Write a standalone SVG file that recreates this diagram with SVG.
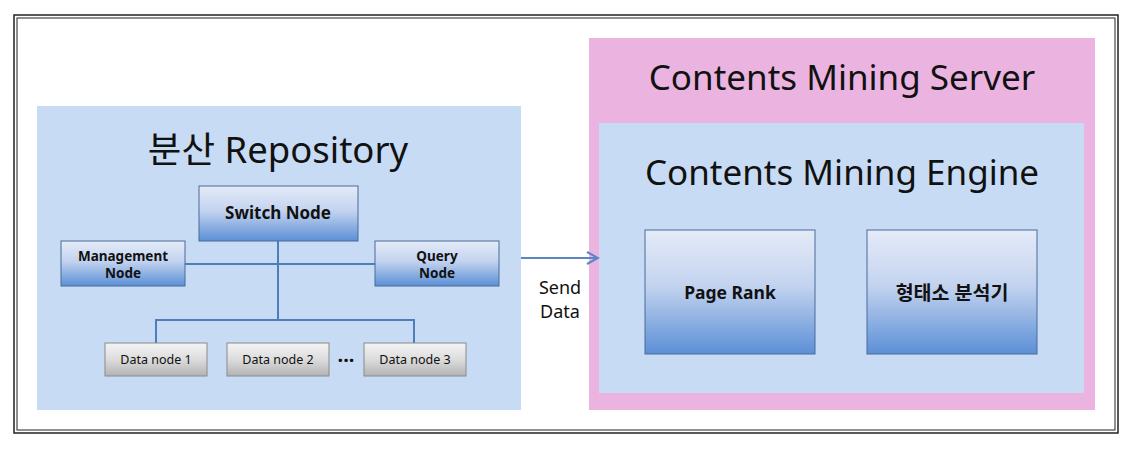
<svg xmlns="http://www.w3.org/2000/svg" width="1133" height="450" viewBox="0 0 1133 450">
<defs>
<linearGradient id="gb" x1="0" y1="0" x2="0" y2="1">
<stop offset="0" stop-color="#e4ebf8"/>
<stop offset="0.45" stop-color="#c3d3ef"/>
<stop offset="1" stop-color="#5b8fd6"/>
</linearGradient>
<linearGradient id="gg" x1="0" y1="0" x2="0" y2="1">
<stop offset="0" stop-color="#f4f4f4"/>
<stop offset="0.5" stop-color="#dcdcdc"/>
<stop offset="1" stop-color="#b3b3b3"/>
</linearGradient>
<marker id="arr" markerWidth="14" markerHeight="14" refX="12" refY="7" orient="auto" markerUnits="userSpaceOnUse">
<path d="M1,1 L12,7 L1,13" fill="none" stroke="#5a86c4" stroke-width="2"/>
</marker>
<style>
.t{font-family:"Noto Sans","Noto Sans CJK KR",sans-serif;fill:#111}
.b{font-weight:bold;text-anchor:middle}
.nb{fill:url(#gb);stroke:#4a6a96;stroke-width:1}
.ng{fill:url(#gg);stroke:#8a8a8a;stroke-width:1}
.ln{fill:none;stroke:#4f7db8;stroke-width:2}
</style>
</defs>
<rect x="0" y="0" width="1133" height="450" fill="#fff"/>
<rect x="14" y="15" width="1104" height="418" fill="none" stroke="#222" stroke-width="1.5"/>
<rect x="17" y="18" width="1098" height="412" fill="none" stroke="#222" stroke-width="1"/>

<g id="repo">
<rect x="37" y="106" width="484" height="304" fill="#c7dcf4"/>
<text class="t" x="278" y="163" font-size="36.5" text-anchor="middle">분산 Repository</text>
</g>
<g id="server">
<rect x="589" y="38" width="506" height="372" fill="#ebb4e0"/>
<text class="t" x="842" y="90" font-size="35" text-anchor="middle">Contents Mining Server</text>
</g>
<g id="engine">
<rect x="599" y="123" width="485" height="270" fill="#c7dcf4"/>
<text class="t" x="842" y="185" font-size="35" text-anchor="middle">Contents Mining Engine</text>
</g>

<g id="connectors">
<path class="ln" d="M185,264 H375 M278,241 V320 M156,343 V320 H414 V343"/>
<line x1="521" y1="258" x2="598" y2="258" stroke="#5a86c4" stroke-width="2" marker-end="url(#arr)"/>
<text class="t" x="560" y="294" font-size="18" text-anchor="middle">Send</text>
<text class="t" x="560" y="318" font-size="18" text-anchor="middle">Data</text>
</g>

<g id="switch">
<rect class="nb" x="199" y="186" width="159" height="55"/>
<text class="t b" x="278" y="219" font-size="17">Switch Node</text>
</g>
<g id="management">
<rect class="nb" x="61" y="241" width="124" height="45"/>
<text class="t b" x="123" y="261" font-size="13.5">Management</text>
<text class="t b" x="123" y="278" font-size="13.5">Node</text>
</g>
<g id="query">
<rect class="nb" x="375" y="241" width="124" height="45"/>
<text class="t b" x="437" y="261" font-size="13.5">Query</text>
<text class="t b" x="437" y="278" font-size="13.5">Node</text>
</g>
<g id="data1">
<rect class="ng" x="105" y="343" width="102" height="33"/>
<text class="t" x="156" y="364" font-size="12.5" text-anchor="middle">Data node 1</text>
</g>
<g id="data2">
<rect class="ng" x="227" y="343" width="102" height="33"/>
<text class="t" x="278" y="364" font-size="12.5" text-anchor="middle">Data node 2</text>
</g>
<text class="t" x="346" y="367" font-size="20" font-weight="bold" text-anchor="middle">···</text>
<g id="data3">
<rect class="ng" x="364" y="343" width="102" height="33"/>
<text class="t" x="415" y="364" font-size="12.5" text-anchor="middle">Data node 3</text>
</g>
<g id="pagerank">
<rect class="nb" x="645" y="230" width="170" height="124"/>
<text class="t b" x="730" y="299" font-size="17.5">Page Rank</text>
</g>
<g id="morph">
<rect class="nb" x="867" y="230" width="170" height="124"/>
<text class="t b" x="952" y="300" font-size="19.5">형태소 분석기</text>
</g>
</svg>
